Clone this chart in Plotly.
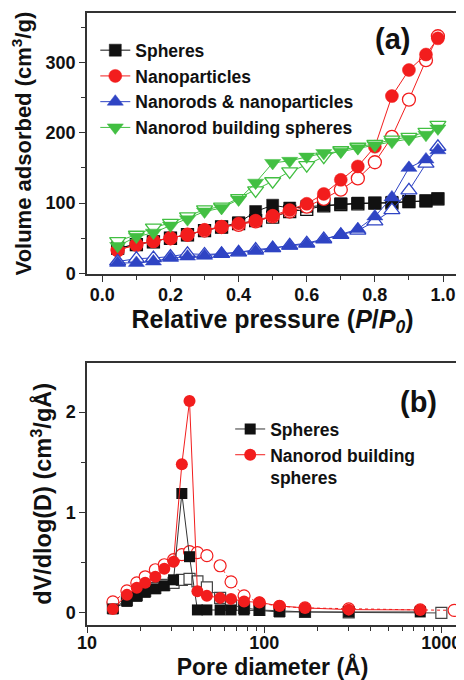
import plotly.graph_objects as go

# ---------------- data: panel (a) ----------------
p_rel = [0.045, 0.1, 0.15, 0.2, 0.25, 0.3, 0.35, 0.4, 0.45, 0.5,
         0.55, 0.6, 0.65, 0.7, 0.75, 0.8, 0.85, 0.9, 0.95, 0.985]

spheres_ads = [36, 41, 45, 50, 55, 61, 66, 72, 88, 97,
               93, 95, 97, 99, 100, 100, 101, 102, 103, 106]
spheres_des = [36, 41, 45, 50, 55, 61, 66, 71, 75, 80,
               88, 91, 96, 98, 99, 100, 100, 102, 103, 106]

nanopart_ads = [33, 41, 46, 50, 55, 62, 66, 71, 75, 82,
                90, 99, 113, 133, 152, 180, 252, 289, 311, 334]
nanopart_des = [33, 41, 46, 50, 55, 61, 66, 69, 74, 81,
                88, 95, 106, 119, 135, 158, 194, 247, 303, 337]

rods_np_ads = [15, 15, 17, 22, 24, 25, 28, 30, 32, 36,
               39, 42, 48, 55, 63, 81, 108, 150, 162, 175]
rods_np_des = [17, 21, 22, 24, 28, 27, 28, 30, 34, 36,
               40, 43, 49, 55, 61, 74, 90, 118, 156, 180]

nbs_ads = [39, 52, 58, 68, 77, 88, 93, 105, 129, 157,
           160, 166, 171, 173, 178, 182, 187, 191, 197, 206]
nbs_des = [46, 55, 65, 72, 81, 91, 95, 107, 118, 131,
           145, 154, 166, 175, 180, 184, 190, 194, 201, 211]

# ---------------- data: panel (b) ----------------
pore_d = [14.0, 16.8, 19.1, 21.3, 24.3, 27.3, 30.8, 34.3, 37.9, 42.0,
          47.5, 56.4, 65.0, 77.0, 94.0, 122, 170, 300, 760]
sph_filled = [0.04, 0.115, 0.165, 0.205, 0.24, 0.27, 0.33, 1.19, 0.56, 0.03,
              0.03, 0.03, 0.03, 0.03, 0.025, 0.01, 0.01, 0.01, 0.01]
pore_d_sph_open = [14.0, 16.8, 19.1, 21.3, 24.3, 27.3, 30.8, 34.3, 37.9, 42.0,
                   47.5, 56.4, 65.0, 77.0, 94.0, 122, 170, 300, 1000]
sph_open = [0.05, 0.13, 0.18, 0.22, 0.25, 0.28, 0.30, 0.33, 0.34, 0.315,
            0.255, 0.15, 0.08, 0.05, 0.03, 0.02, 0.01, 0.005, 0.0]

nbs_filled = [0.04, 0.18, 0.25, 0.30, 0.36, 0.44, 0.51, 1.48, 2.11, 0.215,
              0.17, 0.15, 0.14, 0.115, 0.105, 0.07, 0.05, 0.033, 0.03]
pore_d_nbs_open = [14.0, 16.8, 19.1, 21.3, 24.3, 27.3, 30.8, 34.3, 37.9, 42.0,
                   47.5, 56.4, 65.0, 77.0, 94.0, 122, 170, 300, 760, 1180]
nbs_open = [0.11, 0.22, 0.30, 0.36, 0.43, 0.48, 0.53, 0.58, 0.61, 0.60,
            0.57, 0.47, 0.31, 0.17, 0.10, 0.066, 0.05, 0.04, 0.03, 0.026]

x_ticks_a = [0.0, 0.2, 0.4, 0.6, 0.8, 1.0]
y_ticks_a = [0, 100, 200, 300]
x_ticks_b = [10, 100, 1000]
x_minor_b = [20, 30, 40, 50, 60, 70, 80, 90, 200, 300, 400, 500, 600, 700, 800, 900]
y_ticks_b = [0, 1, 2]

BLACK = "#111111"
RED = "#f21d1d"
BLUE = "#2f44c4"
GREEN = "#42bf42"
FONT = "Liberation Sans"

# page has an 8px body margin -> figure sits at (8, 8)
OFF = 8
W, H = 464 - OFF, 680 - OFF
ML, MR, MT, MB = 86.7 - OFF, W - (458 - OFF), 12.7 - OFF, H - (625 - OFF)
PW, PH = W - ML - MR, H - MT - MB


def pxx(px):
    return (px - OFF - ML) / PW


def pxy(py):
    return (H - MB - (py - OFF)) / PH


fig = go.Figure()


def add_pair(x, ya, yd, color, sym, name, msize, lw=1.0):
    fig.add_trace(go.Scatter(
        x=x, y=yd, mode="lines+markers", xaxis="x", yaxis="y",
        line=dict(color=color, width=lw),
        marker=dict(symbol=sym, size=msize, color="white",
                    line=dict(color=color, width=1.3)),
        showlegend=False, legend="legend", hoverinfo="skip"))
    fig.add_trace(go.Scatter(
        x=x, y=ya, mode="lines+markers", xaxis="x", yaxis="y",
        line=dict(color=color, width=lw),
        marker=dict(symbol=sym, size=msize, color=color,
                    line=dict(color=color, width=0.5)),
        name=name, legend="legend"))


add_pair(p_rel, spheres_ads, spheres_des, BLACK, "square", "Spheres", 12)
add_pair(p_rel, nanopart_ads, nanopart_des, RED, "circle", "Nanoparticles", 13)
add_pair(p_rel, rods_np_ads, rods_np_des, BLUE, "triangle-up", "Nanorods & nanoparticles", 14)
add_pair(p_rel, nbs_ads, nbs_des, GREEN, "triangle-down", "Nanorod building spheres", 14)

# panel (b)
fig.add_trace(go.Scatter(x=pore_d_sph_open, y=sph_open, mode="lines+markers", xaxis="x2", yaxis="y2",
                         line=dict(color="#444444", width=1),
                         marker=dict(symbol="square", size=11, color="white", line=dict(color="#444444", width=1.2)),
                         showlegend=False, legend="legend2", hoverinfo="skip"))
fig.add_trace(go.Scatter(x=pore_d_nbs_open, y=nbs_open, mode="lines+markers", xaxis="x2", yaxis="y2",
                         line=dict(color=RED, width=1, dash="dot"),
                         marker=dict(symbol="circle", size=12, color="white", line=dict(color=RED, width=1.2)),
                         showlegend=False, legend="legend2", hoverinfo="skip"))
fig.add_trace(go.Scatter(x=pore_d, y=sph_filled, mode="lines+markers", xaxis="x2", yaxis="y2",
                         line=dict(color="#333333", width=1),
                         marker=dict(symbol="square", size=11, color=BLACK),
                         name="Spheres", legend="legend2"))
fig.add_trace(go.Scatter(x=pore_d, y=nbs_filled, mode="lines+markers", xaxis="x2", yaxis="y2",
                         line=dict(color=RED, width=1),
                         marker=dict(symbol="circle", size=12, color=RED),
                         name="Nanorod building<br>spheres", legend="legend2"))

axis_common = dict(showline=True, linewidth=1.5, linecolor="#333333", mirror=True,
                   ticks="outside", ticklen=6, tickwidth=1.3, tickcolor="#333333",
                   showgrid=False, zeroline=False, automargin=False,
                   tickfont=dict(family=FONT, size=18, color="#111111", weight="bold"))

fig.update_layout(
    template="none",
    width=W, height=H, margin=dict(l=ML, r=MR, t=MT, b=MB, pad=0),
    paper_bgcolor="white", plot_bgcolor="white",
    font=dict(family=FONT, color="#111111"),
    xaxis=dict(domain=[0, 1], anchor="y", range=[-0.045, 1.044], tickvals=x_ticks_a, tickformat=".1f",
               ticklabelstandoff=-3,
               minor=dict(ticks="outside", dtick=0.1, ticklen=4, tickcolor="#333333"),
               title=dict(text="Relative pressure (<i>P</i>/<i>P</i><sub><i>0</i></sub>)",
                          font=dict(family=FONT, size=25, weight="bold"), standoff=0),
               **axis_common),
    yaxis=dict(domain=[pxy(274), 1], anchor="x", range=[-1, 370],
               tickvals=y_ticks_a,
               minor=dict(ticks="outside", dtick=50, ticklen=4, tickcolor="#333333"),
               title=dict(text="Volume adsorbed (cm<sup>3</sup>/g)",
                          font=dict(family=FONT, size=22, weight="bold"), standoff=10),
               **axis_common),
    xaxis2=dict(domain=[0, 1], anchor="y2", type="log", range=[1, 3.094], tickvals=x_ticks_b,
                ticktext=["10", "100", "1000"], ticklabelstandoff=-5,
                minor=dict(ticks="outside", tickvals=x_minor_b, ticklen=4, tickcolor="#333333"),
                title=dict(text="Pore diameter (Å)", font=dict(family=FONT, size=23, weight="bold"), standoff=9),
                **axis_common),
    yaxis2=dict(domain=[0, pxy(362.7)], anchor="x2", range=[-0.12, 2.49],
                tickvals=y_ticks_b,
                minor=dict(ticks="outside", dtick=0.5, ticklen=4, tickcolor="#333333"),
                title=dict(text="dV/dlog(D) (cm<sup>3</sup>/gÅ)",
                           font=dict(family=FONT, size=23.5, weight="bold"), standoff=7),
                **axis_common),
    legend=dict(x=pxx(95), y=pxy(32), xanchor="left", yanchor="top", bgcolor="rgba(0,0,0,0)",
                font=dict(family=FONT, size=17.5, weight="bold"), tracegroupgap=0,
                itemwidth=30, borderwidth=0),
    legend2=dict(x=pxx(230), y=pxy(411), xanchor="left", yanchor="top", bgcolor="rgba(0,0,0,0)",
                 font=dict(family=FONT, size=17.5, weight="bold"), valign="top", itemwidth=30,
                 tracegroupgap=0, borderwidth=0),
    annotations=[
        dict(text="(a)", x=pxx(392), y=pxy(39), xref="paper", yref="paper",
             xanchor="center", yanchor="middle",
             showarrow=False, font=dict(family=FONT, size=29, weight="bold")),
        dict(text="(b)", x=pxx(418), y=pxy(402), xref="paper", yref="paper",
             xanchor="center", yanchor="middle",
             showarrow=False, font=dict(family=FONT, size=29, weight="bold")),
    ],
)

fig.write_html("out.html")
